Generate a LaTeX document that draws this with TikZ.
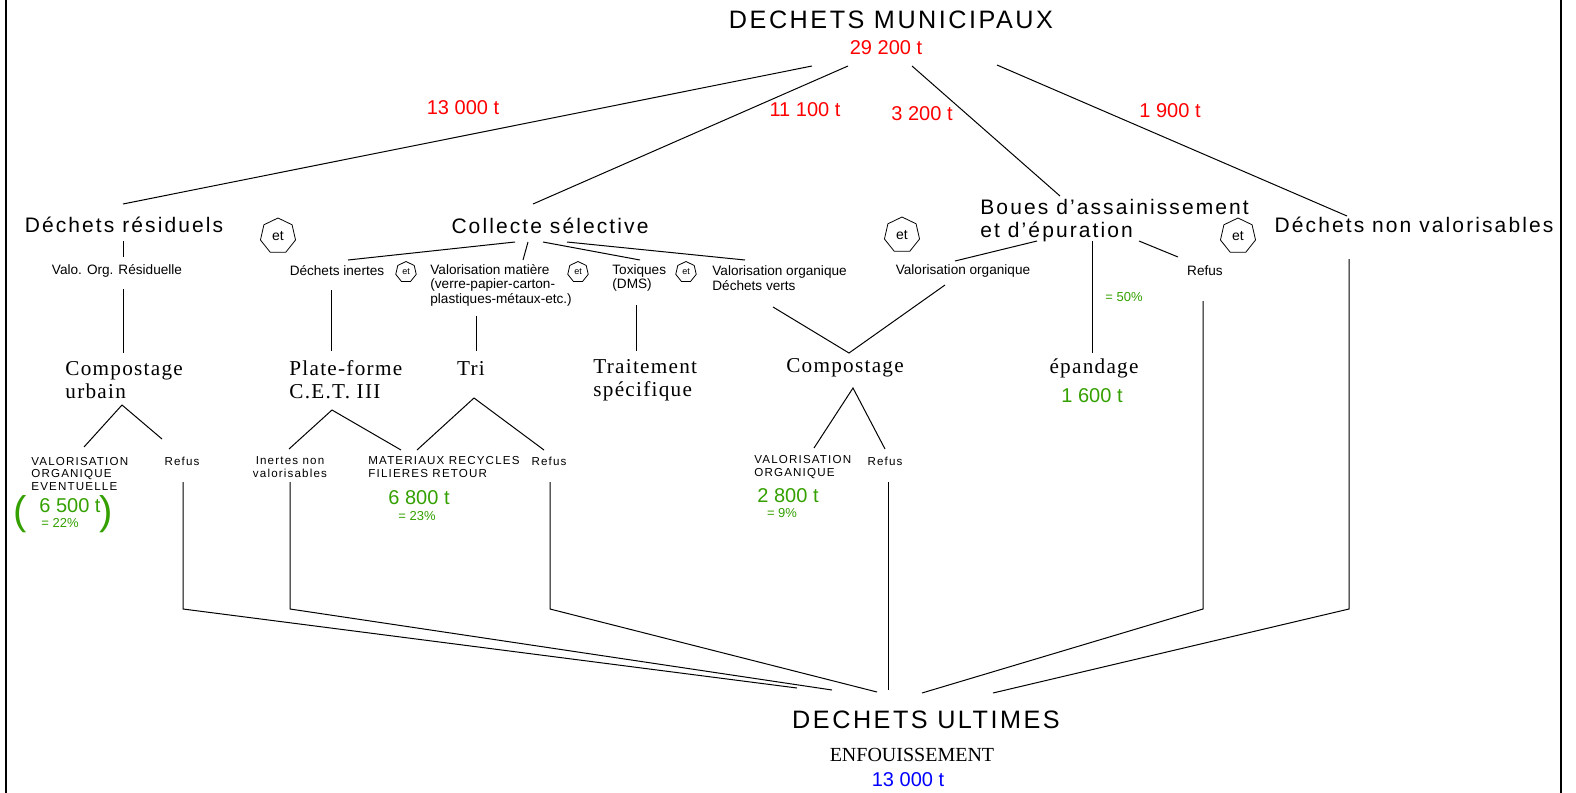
\documentclass[tikz,border=0pt]{standalone}
\usepackage{fontspec}
\setmainfont{Liberation Sans}
\newfontfamily\cadfont[LetterSpace=10]{Liberation Sans}
\newfontfamily\serfont[LetterSpace=6]{Liberation Serif}
\newfontfamily\plainserif{Liberation Serif}
\usepackage{xcolor}
\usepackage{tikz}
\usetikzlibrary{shapes.geometric}

\definecolor{qtyred}{RGB}{255,0,0}
\definecolor{qtygreen}{RGB}{51,160,0}
\definecolor{qtyblue}{RGB}{0,0,255}

\tikzset{
  cadbig/.style={font=\cadfont\fontsize{12.6}{15}\selectfont},
  cadmid/.style={font=\cadfont\fontsize{10.5}{11.5}\selectfont, align=left},
  cadsmall/.style={font=\cadfont\fontsize{5.8}{6.5}\selectfont, align=left},
  lbl/.style={font=\fontsize{6.8}{7.2}\selectfont, align=left},
  serlbl/.style={font=\serfont\fontsize{10.6}{11.5}\selectfont, align=left},
  qty/.style={font=\fontsize{10}{12}\selectfont},
  pct/.style={font=\fontsize{6.5}{8}\selectfont, text=qtygreen},
  paren/.style={text=qtygreen, font=\fontsize{20}{22}\selectfont},
  etbig/.style={draw, regular polygon, regular polygon sides=7, minimum size=18pt,
    inner sep=0pt, font=\fontsize{7}{8}\selectfont},
  etsmall/.style={draw, regular polygon, regular polygon sides=7, minimum size=10.5pt,
    inner sep=0pt, font=\fontsize{4.5}{5}\selectfont},
  wire/.style={line width=0.5pt},
}

\begin{document}
\begin{tikzpicture}[x=0.5pt, y=-0.5pt, inner sep=0pt]
  \useasboundingbox (0,0) rectangle (1576,793);

  % Frame
  \draw[line width=0.8pt] (6,0) -- (6,793);
  \draw[line width=0.8pt] (1561,0) -- (1561,793);

  % Top
  \node[cadbig] (title) at (891,20) {DECHETS MUNICIPAUX};
  \node[qty, text=qtyred] (tot) at (886,48) {29 200 t};
  \node[qty, text=qtyred] (q13) at (463,108) {13 000 t};
  \node[qty, text=qtyred] (q11) at (805,110) {11 100 t};
  \node[qty, text=qtyred] (q3) at (922,114) {3 200 t};
  \node[qty, text=qtyred] (q19) at (1170,111) {1 900 t};

  % Main streams
  \node[cadmid] (resid) at (124,225) {Déchets résiduels};
  \node[etbig] (et1) at (278,236) {et};
  \node[cadmid] (coll) at (550,226) {Collecte sélective};
  \node[etbig] (et2) at (902,235) {et};
  \node[cadmid, anchor=west] (boues) at (980,221) {Boues d’assainissement\\et d’épuration};
  \node[etbig] (et3) at (1238,236) {et};
  \node[cadmid] (nonval) at (1414,225) {Déchets non valorisables};

  % Sub streams
  \node[lbl] (valres) at (117,271) {Valo. Org. Résiduelle};
  \node[lbl] (inert) at (337,271) {Déchets inertes};
  \node[etsmall] (et4) at (406,272) {et};
  \node[lbl, anchor=west] (valmat) at (430,285) {Valorisation matière\\(verre-papier-carton-\\plastiques-métaux-etc.)};
  \node[etsmall] (et5) at (578,272) {et};
  \node[lbl, anchor=west] (tox) at (612,278) {Toxiques\\(DMS)};
  \node[etsmall] (et6) at (686,272) {et};
  \node[lbl, anchor=west] (valorg) at (712,278) {Valorisation organique\\Déchets verts};
  \node[lbl] (valorgb) at (963,271) {Valorisation organique};
  \node[lbl] (refb) at (1205,271) {Refus};
  \node[pct] (p50) at (1124,297) {= 50\%};

  % Treatments
  \node[serlbl, anchor=west] (compu) at (65,380) {Compostage\\urbain};
  \node[serlbl, anchor=west] (platef) at (289,380) {Plate-forme\\C.E.T. III};
  \node[serlbl] (tri) at (471,368) {Tri};
  \node[serlbl, anchor=west] (trait) at (593,380) {Traitement\\spécifique};
  \node[serlbl] (compo) at (845,368) {Compostage};
  \node[serlbl] (epand) at (1094,368) {épandage};
  \node[qty, text=qtygreen] (q16) at (1092,396) {1 600 t};

  % Outputs
  \node[cadsmall, anchor=west] (vorgu) at (31,474) {VALORISATION\\ORGANIQUE\\EVENTUELLE};
  \node[cadsmall] (refu) at (182,461) {Refus};
  \node[cadsmall, align=center] (inval) at (290,467) {Inertes non\\valorisables};
  \node[cadsmall, anchor=west] (matrec) at (368,467) {MATERIAUX RECYCLES\\FILIERES RETOUR};
  \node[cadsmall] (reft) at (549,461) {Refus};
  \node[cadsmall, anchor=west] (vorgc) at (754,467) {VALORISATION\\ORGANIQUE};
  \node[cadsmall] (refc) at (885,461) {Refus};

  \node[qty, text=qtygreen] (q65) at (70,506) {6 500 t};
  \node[pct] (p22) at (60,523) {= 22\%};
  \node[paren] (lpar) at (20,514) {(};
  \node[paren] (rpar) at (106,514) {)};
  \node[qty, text=qtygreen] (q68) at (419,498) {6 800 t};
  \node[pct] (p23) at (417,516) {= 23\%};
  \node[qty, text=qtygreen] (q28) at (788,496) {2 800 t};
  \node[pct] (p9) at (782,513) {= 9\%};

  % Bottom
  \node[cadbig] (ult) at (926,720) {DECHETS ULTIMES};
  \node[font=\plainserif\fontsize{10}{12}\selectfont] (enf) at (912,755) {ENFOUISSEMENT};
  \node[qty, text=qtyblue] (q130) at (908,780) {13 000 t};

  % Junction points
  \coordinate (t1) at (812,66);  \coordinate (r1) at (123,204);
  \coordinate (t2) at (848,66);  \coordinate (c1) at (533,204);
  \coordinate (t3) at (912,66);  \coordinate (b1) at (1060,196);
  \coordinate (t4) at (997,65);  \coordinate (n1) at (1347,216);

  \coordinate (r2) at (123,241); \coordinate (r3) at (123,257);
  \coordinate (r4) at (123,289); \coordinate (r5) at (123,353);

  \coordinate (c2) at (515,242); \coordinate (c3) at (348,260);
  \coordinate (c4) at (528,242); \coordinate (c5) at (523,260);
  \coordinate (c6) at (543,242); \coordinate (c7) at (640,260);
  \coordinate (c8) at (567,242); \coordinate (c9) at (745,260);

  \coordinate (i1) at (331,290); \coordinate (i2) at (331,351);
  \coordinate (m1) at (476,316); \coordinate (m2) at (476,351);
  \coordinate (x1) at (636,305); \coordinate (x2) at (636,351);
  \coordinate (v1) at (773,307); \coordinate (v2) at (849,353); \coordinate (v3) at (945,285);

  \coordinate (b2) at (1037,241); \coordinate (b3) at (955,261);
  \coordinate (b4) at (1092,241); \coordinate (b5) at (1092,353);
  \coordinate (b6) at (1139,241); \coordinate (b7) at (1178,257);
  \coordinate (b8) at (1203,301); \coordinate (b9) at (1203,609);
  \coordinate (n2) at (1349,259); \coordinate (n3) at (1349,609);

  \coordinate (u1) at (84,447);  \coordinate (u2) at (122,405); \coordinate (u3) at (162,439);
  \coordinate (p1) at (289,449); \coordinate (p2) at (332,410); \coordinate (p3) at (401,450);
  \coordinate (s1) at (417,450); \coordinate (s2) at (474,398); \coordinate (s3) at (544,450);
  \coordinate (k1) at (814,448); \coordinate (k2) at (853,388); \coordinate (k3) at (885,449);

  \coordinate (e1) at (183,482); \coordinate (e2) at (183,609);
  \coordinate (e3) at (290,482); \coordinate (e4) at (290,609);
  \coordinate (e5) at (550,482); \coordinate (e6) at (550,609);
  \coordinate (e7) at (888,482);

  \coordinate (z1) at (797,688); \coordinate (z2) at (832,690);
  \coordinate (z3) at (877,692); \coordinate (z4) at (888,690);
  \coordinate (z5) at (922,693); \coordinate (z6) at (993,693);

  % Connectors
  \draw[wire] (t1) -- (r1);
  \draw[wire] (t2) -- (c1);
  \draw[wire] (t3) -- (b1);
  \draw[wire] (t4) -- (n1);

  \draw[wire] (r2) -- (r3);
  \draw[wire] (r4) -- (r5);
  \draw[wire] (c2) -- (c3);
  \draw[wire] (c4) -- (c5);
  \draw[wire] (c6) -- (c7);
  \draw[wire] (c8) -- (c9);
  \draw[wire] (i1) -- (i2);
  \draw[wire] (m1) -- (m2);
  \draw[wire] (x1) -- (x2);
  \draw[wire] (v1) -- (v2) -- (v3);
  \draw[wire] (b2) -- (b3);
  \draw[wire] (b4) -- (b5);
  \draw[wire] (b6) -- (b7);

  \draw[wire] (u1) -- (u2) -- (u3);
  \draw[wire] (p1) -- (p2) -- (p3);
  \draw[wire] (s1) -- (s2) -- (s3);
  \draw[wire] (k1) -- (k2) -- (k3);

  % To landfill
  \draw[wire] (e1) -- (e2) -- (z1);
  \draw[wire] (e3) -- (e4) -- (z2);
  \draw[wire] (e5) -- (e6) -- (z3);
  \draw[wire] (e7) -- (z4);
  \draw[wire] (b8) -- (b9) -- (z5);
  \draw[wire] (n2) -- (n3) -- (z6);
\end{tikzpicture}
\end{document}
